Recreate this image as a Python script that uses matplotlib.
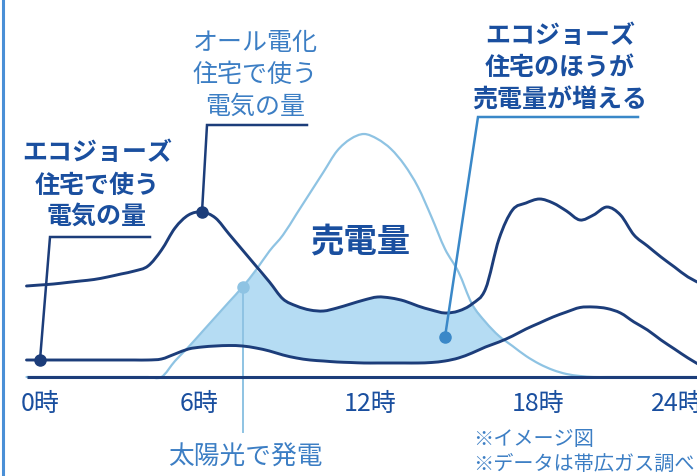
import numpy as np
import matplotlib
matplotlib.use('Agg')
import matplotlib.pyplot as plt
from matplotlib.path import Path
from matplotlib.patches import PathPatch
from matplotlib.lines import Line2D

plt.rcParams['font.family'] = ['Noto Sans CJK JP', 'DejaVu Sans']

# ---------------- data ----------------
hours = np.arange(-0.5, 24.51, 0.5)

# エコジョーズ住宅で使う電気の量
eco = [17, 17, 17, 17, 17, 17, 17, 17, 17, 17,
       18, 23, 28, 30, 31, 31.5, 31, 29, 26, 22,
       19, 17, 16, 15, 14.5, 14, 14, 14, 14, 14,
       14.5, 16, 19, 24, 30, 35, 41, 48, 54, 60,
       65, 69.5, 70, 68.5, 64, 55, 47, 37, 28, 19, 11]

# オール電化住宅で使う電気の量
allelec = [91, 92, 93, 94.5, 96, 97.5, 100, 103, 106, 111,
           127, 149, 162, 165, 159, 143, 127, 111, 95, 78,
           71, 67, 66, 69, 73, 77, 80, 79, 76, 71,
           67, 64, 66, 73, 88, 138, 167, 174, 178, 174,
           166, 157, 162, 170, 162, 142, 131, 120, 110, 100, 93]

# 太陽光で発電
solar = [0, 0, 0, 0, 0, 0, 0, 0, 0, 0,
         0, 16, 30, 45, 60, 75, 90, 107, 126, 142,
         163, 184, 205, 226, 238, 243, 238, 228, 212, 190,
         160, 128, 105, 73, 55, 41, 31, 21, 13, 7,
         3, 1, 0, 0, 0, 0, 0, 0, 0, 0, 0]

tick_hours = [0, 6, 12, 18, 24]
tick_labels = ['0時', '6時', '12時', '18時', '24時']

eco = np.array(eco, float)
allelec = np.array(allelec, float)
solar = np.array(solar, float)

# ---------------- styles ----------------
NAVY = '#1c3d7a'
TXT_DARK = '#1a4f9f'
TXT_MID = '#3c7ec4'
SOLAR = '#8ec3e3'
FILL = '#b5dcf3'
SALE = '#3a88c8'

W, H = 697, 477
fig = plt.figure(figsize=(W / 100, H / 100), dpi=100)
ax = fig.add_axes([0, 0, 1, 1])

# pixel helpers for layout (x origin at 0時 = 40px, 27px per hour; baseline at 378px)
def hx(px):
    return (px - 40) / 27.0

def vy(py):
    return 378 - py

ax.set_xlim(hx(0), hx(W))
ax.set_ylim(vy(H), vy(0))
ax.axis('off')


def smooth_line(x, y, **kw):
    pts = np.column_stack([x, y])
    n = len(pts)
    verts = [pts[0]]
    codes = [Path.MOVETO]
    for i in range(n - 1):
        p0 = pts[max(i - 1, 0)]
        p1 = pts[i]
        p2 = pts[i + 1]
        p3 = pts[min(i + 2, n - 1)]
        c1 = p1 + (p2 - p0) / 6.0
        c2 = p2 - (p3 - p1) / 6.0
        verts += [c1, c2, p2]
        codes += [Path.CURVE4] * 3
    patch = PathPatch(Path(verts, codes), fill=False, capstyle='round', **kw)
    ax.add_patch(patch)


# sold-electricity area
top = np.minimum(solar, allelec)
ax.fill_between(hours, eco, top, where=top > eco, interpolate=True,
                color=FILL, lw=0, zorder=1)

# curves
smooth_line(hours, solar, edgecolor=SOLAR, lw=1.6, zorder=2)
smooth_line(hours, allelec, edgecolor=NAVY, lw=2.1, zorder=4)
smooth_line(hours, eco, edgecolor=NAVY, lw=2.1, zorder=4)

# baseline
ax.plot([hx(27), hx(W + 5)], [0, 0], color=NAVY, lw=2.2, zorder=5,
        solid_capstyle='butt')

# tick labels
tick_dx = [0, -3, 6, 12, -11]
for h, lab, dx in zip(tick_hours, tick_labels, tick_dx):
    ax.text(h + dx / 27.0, vy(404), lab, ha='center', va='center',
            fontsize=18, color=TXT_DARK, zorder=6)

# annotation anchors
i0 = int(np.where(hours == 0)[0][0])
eco_pt = (hours[i0], eco[i0])
morning = hours < 12
ia = int(np.argmax(np.where(morning, allelec, -1)))
all_pt = (hours[ia], allelec[ia])
isol = int(np.where(hours == 7.5)[0][0])
sol_pt = (hours[isol], solar[isol])
isale = int(np.where(hours == 15)[0][0])
sale_pt = (hours[isale], (eco[isale] + top[isale]) / 2)

# leader lines
ax.plot([eco_pt[0], hx(50), hx(150)], [eco_pt[1], vy(238), vy(238)],
        color=NAVY, lw=1.8, zorder=4, solid_joinstyle='miter')
ax.plot([all_pt[0], hx(207), hx(307)], [all_pt[1], vy(126), vy(126)],
        color=NAVY, lw=1.8, zorder=4, solid_joinstyle='miter')
ax.plot([sol_pt[0], sol_pt[0]], [sol_pt[1], vy(433)],
        color=SOLAR, lw=1.4, zorder=3)
ax.plot([sale_pt[0], hx(478), hx(638)], [sale_pt[1], vy(118), vy(118)],
        color=SALE, lw=1.8, zorder=4, solid_joinstyle='miter')

# dots
ax.plot(*eco_pt, 'o', color=NAVY, ms=8, zorder=7)
ax.plot(*all_pt, 'o', color=NAVY, ms=8, zorder=7)
ax.plot(*sol_pt, 'o', color=SOLAR, ms=8, zorder=7)
ax.plot(*sale_pt, 'o', color=SALE, ms=8, zorder=7)

# texts
for s, py in zip(['エコジョーズ', '住宅で使う', '電気の量'], [153, 186, 217]):
    ax.text(hx(97), vy(py), s, ha='center', va='center', fontsize=18,
            fontweight='bold', color=TXT_DARK, zorder=8)
for s, py in zip(['オール電化', '住宅で使う', '電気の量'], [43, 75, 107]):
    ax.text(hx(255), vy(py), s, ha='center', va='center', fontsize=18,
            color=TXT_MID, zorder=8)
for s, py in zip(['エコジョーズ', '住宅のほうが', '売電量が増える'], [36, 68, 101]):
    ax.text(hx(560), vy(py), s, ha='center', va='center', fontsize=18,
            fontweight='bold', color=TXT_DARK, zorder=8)

ax.text(hx(360), vy(242), '売電量', ha='center', va='center', fontsize=24,
        fontweight='bold', color=TXT_DARK, zorder=8)
ax.text(hx(245), vy(458), '太陽光で発電', ha='center', va='center',
        fontsize=18.5, color=TXT_MID, zorder=8)
ax.text(hx(473), vy(440), '※イメージ図', ha='left', va='center',
        fontsize=14.5, color=TXT_MID, zorder=8)
ax.text(hx(473), vy(464), '※データは帯広ガス調べ', ha='left', va='center',
        fontsize=14.5, color=TXT_MID, zorder=8)

# left frame line
fig.add_artist(Line2D([2.5 / W, 2.5 / W], [0, 1], color='#4a8fd6', lw=2.2))

fig.savefig('out.png', dpi=100)
